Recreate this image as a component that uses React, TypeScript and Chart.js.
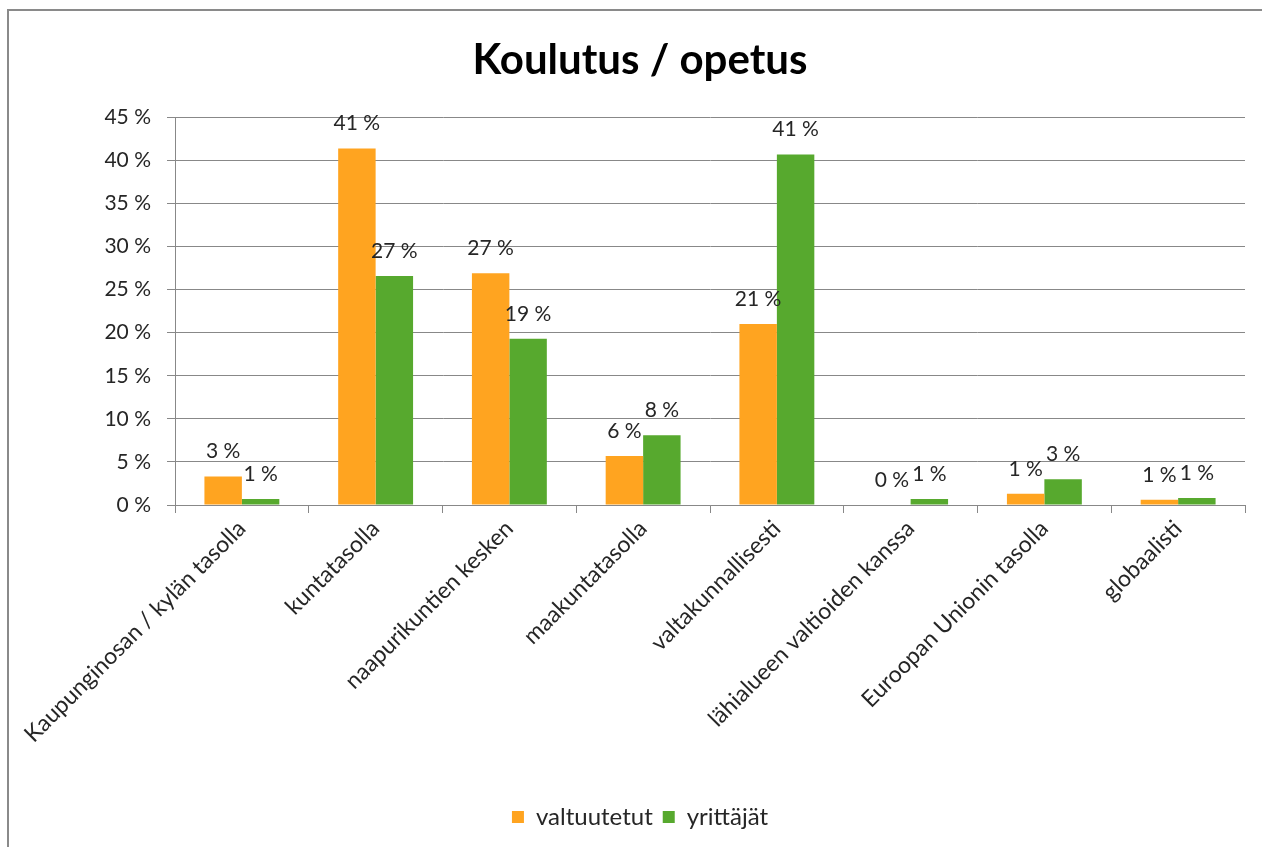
import React, { useEffect, useRef } from "react";
import { Chart, registerables } from "chart.js";

Chart.register(...registerables);

const categories = [
  "Kaupunginosan / kylän tasolla",
  "kuntatasolla",
  "naapurikuntien kesken",
  "maakuntatasolla",
  "valtakunnallisesti",
  "lähialueen valtioiden kanssa",
  "Euroopan Unionin tasolla",
  "globaalisti",
];
const valtuutetut = [3.3, 41.4, 26.9, 5.7, 21.0, 0, 1.3, 0.6];
const yrittajat = [0.7, 26.6, 19.3, 8.1, 40.7, 0.7, 3.0, 0.8];
const seriesNames = ["valtuutetut", "yrittäjät"];
const titleText = "Koulutus / opetus";

const FONT = "Lato, 'Open Sans', sans-serif";

const labelPlugin = {
  id: "barLabels",
  afterDatasetsDraw(chart: any) {
    const ctx = chart.ctx;
    ctx.save();
    ctx.font = `21px ${FONT}`;
    ctx.fillStyle = "#262626";
    ctx.textAlign = "center";
    ctx.textBaseline = "middle";
    chart.data.datasets.forEach((ds: any, i: number) => {
      const meta = chart.getDatasetMeta(i);
      meta.data.forEach((bar: any, j: number) => {
        const v = ds.data[j];
        ctx.fillText(`${Math.round(v)} %`, bar.x, bar.y - 25);
      });
    });
    ctx.restore();
  },
};

export default function App() {
  const ref = useRef<HTMLCanvasElement>(null);
  useEffect(() => {
    const chart = new Chart(ref.current!, {
      type: "bar",
      data: {
        labels: categories,
        datasets: [
          {
            label: seriesNames[0],
            data: valtuutetut,
            backgroundColor: "#FFA420",
            categoryPercentage: 0.56,
            barPercentage: 1,
          },
          {
            label: seriesNames[1],
            data: yrittajat,
            backgroundColor: "#57A92E",
            categoryPercentage: 0.56,
            barPercentage: 1,
          },
        ],
      },
      options: {
        responsive: false,
        animation: false,
        layout: { padding: { left: 35, right: 17, top: 0, bottom: 8 } },
        plugins: {
          title: {
            display: true,
            text: titleText,
            color: "#000",
            font: { family: FONT, size: 42, weight: "bold", lineHeight: 1.2 },
            padding: { top: 35, bottom: 32 },
          },
          legend: {
            position: "bottom",
            labels: {
              boxWidth: 12,
              boxHeight: 12,
              padding: 10,
              color: "#262626",
              font: { family: FONT, size: 24 },
            },
          },
          tooltip: { enabled: false },
        },
        scales: {
          x: {
            grid: {
              offset: true,
              drawOnChartArea: false,
              tickLength: 8,
              color: "#888",
            },
            border: { color: "#888" },
            ticks: {
              maxRotation: 45,
              minRotation: 45,
              color: "#262626",
              font: { family: FONT, size: 23 },
              padding: 2,
            },
            afterFit(scale: any) {
              scale.height = 290;
            },
          },
          y: {
            min: 0,
            max: 45,
            ticks: {
              stepSize: 5,
              color: "#262626",
              font: { family: FONT, size: 21 },
              padding: 16,
              callback: (v: any) => `${v} %`,
            },
            grid: { color: "#888", tickLength: 8 },
            border: { color: "#888" },
            afterFit(scale: any) {
              scale.width = 140;
            },
          },
        },
      },
      plugins: [labelPlugin],
    });
    return () => chart.destroy();
  }, []);
  return (
    <div
      style={{
        position: "fixed",
        left: 0,
        top: 0,
        width: 1262,
        height: 847,
        overflow: "hidden",
        background: "#fff",
      }}
    >
      <div
        style={{
          position: "absolute",
          left: 7,
          top: 9,
          width: 1300,
          height: 900,
          borderTop: "2px solid #8a8a8a",
          borderLeft: "2px solid #8a8a8a",
        }}
      />
      <canvas
        ref={ref}
        width={1262}
        height={847}
        style={{ position: "absolute", left: 0, top: 0 }}
      />
    </div>
  );
}
